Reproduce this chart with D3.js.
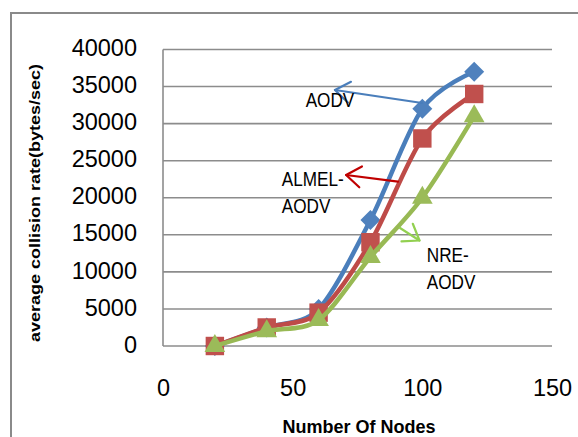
<!DOCTYPE html>
<html>
<head>
<meta charset="utf-8">
<script src="https://cdn.jsdelivr.net/npm/d3@7/dist/d3.min.js"></script>
<style>
  html, body { margin: 0; padding: 0; background: #fff; }
  svg { display: block; }
  text { font-family: "Liberation Sans", Arial, sans-serif; fill: #000; }
</style>
</head>
<body>
<svg id="chart" width="578" height="437"></svg>
<script>
// Number of nodes on the x axis
const nodes = [20, 40, 60, 80, 100, 120];

// Average collision rate (bytes/sec) per protocol
const aodv  = [0, 2500, 5000, 17000, 32000, 37000];
const almel = [0, 2500, 4500, 14000, 28000, 34000];
const nre   = [0, 2000, 3500, 12000, 20000, 31000];

const seriesNames = ["AODV", "ALMEL-AODV", "NRE-AODV"];
const xTicks = [0, 50, 100, 150];
const yTicks = [0, 5000, 10000, 15000, 20000, 25000, 30000, 35000, 40000];

const svg = d3.select("#chart");
const W = 578, H = 437;

const x = d3.scaleLinear().domain([0, 150]).range([163, 552]);
const y = d3.scaleLinear().domain([0, 40000]).range([346, 49.5]);

// Outer chart frame
svg.append("rect")
  .attr("x", 11).attr("y", 13)
  .attr("width", W + 20).attr("height", H + 20)
  .attr("fill", "none").attr("stroke", "#8a8a8a").attr("stroke-width", 2);

// Horizontal gridlines
svg.append("g").selectAll("line").data(yTicks).join("line")
  .attr("x1", x(0)).attr("x2", x(150))
  .attr("y1", d => y(d)).attr("y2", d => y(d))
  .attr("stroke", "#8c8c8c").attr("stroke-width", 1.6);

// Vertical axis line
svg.append("line")
  .attr("x1", x(0)).attr("x2", x(0))
  .attr("y1", y(40000)).attr("y2", y(0))
  .attr("stroke", "#8c8c8c").attr("stroke-width", 1.6);

// Y tick labels
const yAxis = d3.axisLeft(y).tickValues(yTicks).tickSize(0).tickPadding(0).tickFormat(d3.format("d"));
const gy = svg.append("g").attr("transform", "translate(137,0)").call(yAxis);
gy.select(".domain").remove();
gy.selectAll("text")
  .attr("font-family", "'Liberation Sans', Arial, sans-serif")
  .attr("font-size", 23.5).attr("fill", "#000")
  .attr("dy", "0.26em").attr("x", 0);

// X tick labels
const xAxis = d3.axisBottom(x).tickValues(xTicks).tickSize(0).tickPadding(0).tickFormat(d3.format("d"));
const gx = svg.append("g").attr("transform", "translate(0,379)").call(xAxis);
gx.select(".domain").remove();
gx.selectAll("text")
  .attr("font-family", "'Liberation Sans', Arial, sans-serif")
  .attr("font-size", 23.5).attr("fill", "#000")
  .attr("dy", "0.72em").attr("y", 0);

// Axis titles
svg.append("text")
  .attr("transform", "translate(40,203) rotate(-90) scale(1,0.85)")
  .attr("text-anchor", "middle")
  .attr("font-size", 18).attr("font-weight", "bold")
  .text("average collision rate(bytes/sec)");

svg.append("text")
  .attr("x", 359).attr("y", 433)
  .attr("text-anchor", "middle")
  .attr("font-size", 18).attr("font-weight", "bold")
  .text("Number Of Nodes");

// Series lines and markers (diamond = square turned 45 degrees)
const series = [
  { name: seriesNames[0], values: aodv,  line: "#4A7EBB", fill: "#4F81BD", shape: d3.symbolSquare,   size: 200, rot: 45 },
  { name: seriesNames[1], values: almel, line: "#BE4B48", fill: "#C0504D", shape: d3.symbolSquare,   size: 340, rot: 0 },
  { name: seriesNames[2], values: nre,   line: "#98B954", fill: "#9BBB59", shape: d3.symbolTriangle, size: 185, rot: 0 }
];

const lineGen = d3.line()
  .x(d => x(d[0])).y(d => y(d[1]))
  .curve(d3.curveCardinal.tension(0.1));

series.forEach(s => {
  const pts = nodes.map((n, i) => [n, s.values[i]]);
  const g = svg.append("g");
  g.append("path")
    .attr("d", lineGen(pts))
    .attr("fill", "none").attr("stroke", s.line)
    .attr("stroke-width", 4.5).attr("stroke-linejoin", "round").attr("stroke-linecap", "round");
  g.selectAll("path.m").data(pts).join("path")
    .attr("class", "m")
    .attr("transform", d => `translate(${x(d[0])},${y(d[1])}) rotate(${s.rot})`)
    .attr("d", d3.symbol().type(s.shape).size(s.size))
    .attr("fill", s.fill);
});

// Callout labels with open arrows (positions in data units)
const callouts = [
  { lines: ["AODV"], tx: 55.0, ty: 32243, from: [99.9, 32782], to: [66.3, 34536], color: "#4A7EBB" },
  { lines: ["ALMEL-", "AODV"], tx: 45.8, ty: 21585, from: [90.6, 22165], to: [70.6, 23069], color: "#C00000" },
  { lines: ["NRE-", "AODV"], tx: 101.7, ty: 11265, from: [91.4, 15919], to: [98.9, 14233], color: "#92D050" }
];

callouts.forEach(c => {
  const x1 = x(c.from[0]), y1 = y(c.from[1]);
  const x2 = x(c.to[0]), y2 = y(c.to[1]);
  const ang = Math.atan2(y1 - y2, x1 - x2);
  const len = 18, spread = 0.62;
  const a1 = [x2 + len * Math.cos(ang - spread), y2 + len * Math.sin(ang - spread)];
  const a2 = [x2 + len * Math.cos(ang + spread), y2 + len * Math.sin(ang + spread)];
  const g = svg.append("g").attr("stroke", c.color).attr("stroke-width", 2.2)
    .attr("fill", "none").attr("stroke-linecap", "round").attr("stroke-linejoin", "round");
  g.append("line").attr("x1", x1).attr("y1", y1).attr("x2", x2).attr("y2", y2);
  g.append("polyline").attr("points", [a1, [x2, y2], a2].map(p => p.join(",")).join(" "));

  c.lines.forEach((t, i) => {
    svg.append("text")
      .attr("transform", `translate(${x(c.tx)},${y(c.ty) + i * 26.5}) scale(0.88,1)`)
      .attr("font-size", 19.5)
      .text(t);
  });
});
</script>
</body>
</html>
